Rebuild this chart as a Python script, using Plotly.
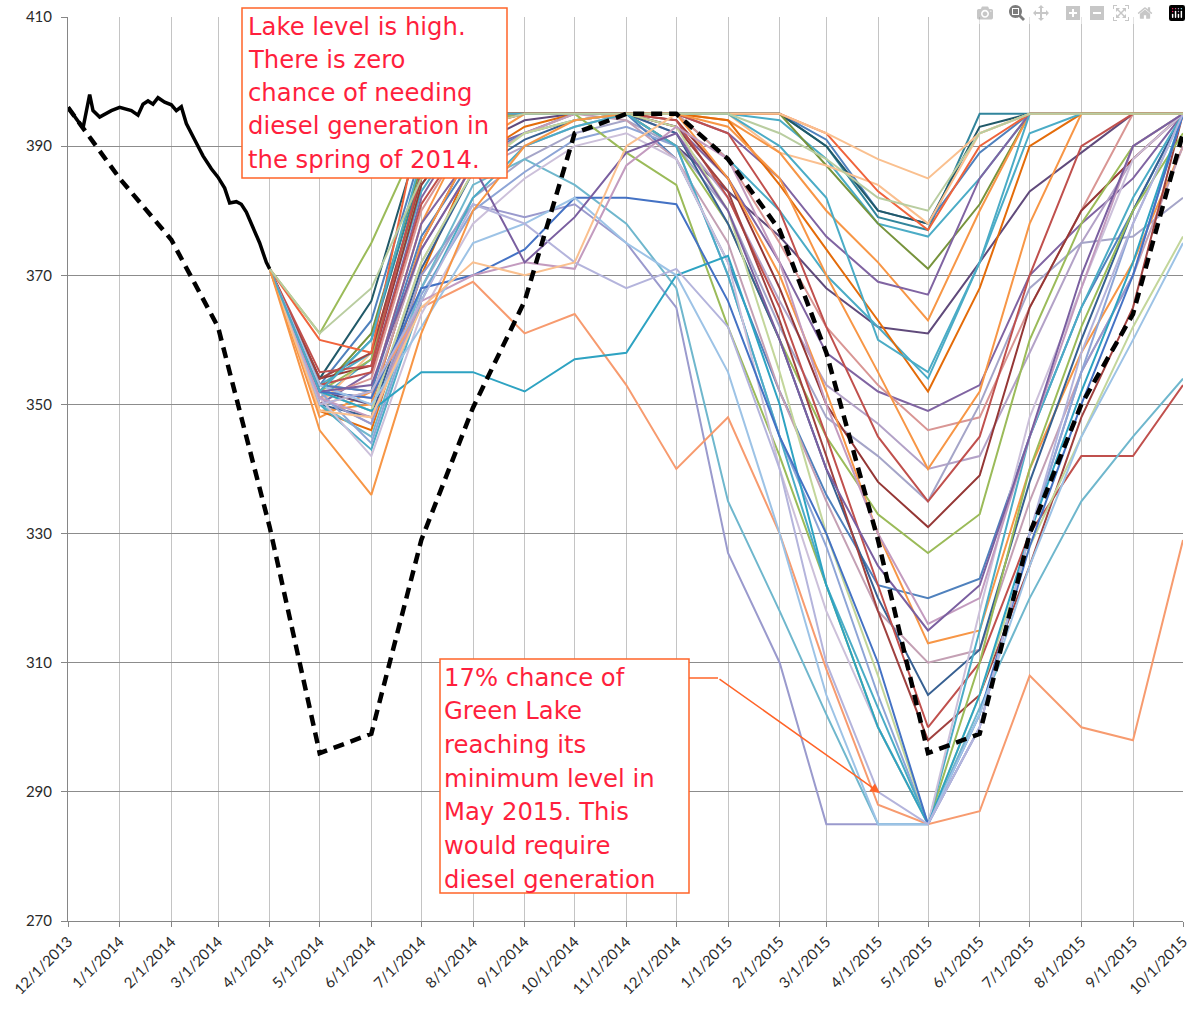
import plotly.graph_objects as go

# ---------------- data ----------------
# observed lake level (solid black)
obs_dates = ["2013-12-01", "2013-12-05", "2013-12-10", "2013-12-14", "2013-12-16", "2013-12-20",
             "2013-12-27", "2014-01-01", "2014-01-08", "2014-01-12", "2014-01-15", "2014-01-18",
             "2014-01-21", "2014-01-24", "2014-01-28", "2014-02-01", "2014-02-04", "2014-02-07",
             "2014-02-10", "2014-02-15", "2014-02-20", "2014-02-25", "2014-03-01", "2014-03-05",
             "2014-03-08", "2014-03-12", "2014-03-15", "2014-03-18", "2014-03-22", "2014-03-26",
             "2014-03-30", "2014-04-01"]
obs_level = [396, 394.5, 392.8, 398, 395.5, 394.5, 395.5, 396, 395.5, 394.8, 396.5, 397,
             396.5, 397.5, 396.8, 396.4, 395.5, 396.1, 393.5, 391, 388.5, 386.5, 385.2, 383.5,
             381.2, 381.4, 381, 379.8, 377.5, 375, 372, 371]

# minimum / critical rule curve (dashed black)
rule_dates = ["2013-12-01", "2013-12-10", "2014-01-01", "2014-02-01", "2014-03-01", "2014-04-01",
              "2014-05-01", "2014-06-01", "2014-07-01", "2014-08-01", "2014-09-01", "2014-10-01",
              "2014-11-01", "2014-12-01", "2015-01-01", "2015-02-01", "2015-03-01", "2015-04-01",
              "2015-05-01", "2015-06-01", "2015-07-01", "2015-08-01", "2015-09-01", "2015-10-01"]
rule_level = [396, 392.8, 385, 375.5, 362, 331, 296, 299, 329, 349.5, 366, 392,
              395, 395, 388, 377, 358, 329, 296, 299, 330, 350, 364, 392]

# simulated trace dates (monthly)
sim_dates = ["2014-04-01", "2014-05-01", "2014-06-01", "2014-07-01", "2014-08-01", "2014-09-01",
             "2014-10-01", "2014-11-01", "2014-12-01", "2015-01-01", "2015-02-01", "2015-03-01",
             "2015-04-01", "2015-05-01", "2015-06-01", "2015-07-01", "2015-08-01", "2015-09-01",
             "2015-10-01"]

run01 = [371, 352, 360, 386, 395, 395, 395, 395, 395, 395, 395, 390, 379, 377, 395, 395, 395, 395, 395]
run02 = [371, 353, 363, 389, 395, 395, 395, 395, 395, 395, 395, 391, 380, 378, 389, 395, 395, 395, 395]
run03 = [371, 351, 357, 383, 395, 395, 395, 395, 395, 395, 394, 388, 378, 376, 385, 395, 395, 395, 395]
run04 = [371, 354, 366, 392, 395, 395, 395, 395, 395, 395, 395, 390, 380, 378, 393, 395, 395, 395, 395]
run05 = [371, 352, 361, 387, 395, 395, 395, 395, 395, 395, 395, 387, 378, 371, 381, 395, 395, 395, 395]
run06 = [371, 350, 358, 385, 395, 395, 395, 395, 395, 395, 389, 387, 384, 378, 392, 395, 395, 395, 395]
run07 = [371, 348, 352, 378, 394, 395, 395, 395, 395, 394, 389, 380, 372, 363, 380, 395, 395, 395, 395]
run08 = [371, 350, 355, 382, 395, 395, 395, 395, 395, 392, 385, 376, 369, 367, 385, 395, 395, 395, 395]
run09 = [371, 352, 350, 375, 390, 394, 395, 395, 390, 383, 376, 368, 362, 361, 372, 383, 389, 395, 395]
run10 = [371, 353, 358, 384, 395, 395, 395, 395, 395, 388, 380, 370, 362, 354, 372, 395, 395, 395, 395]
run11 = [371, 349, 346, 370, 388, 393, 395, 395, 395, 394, 384, 374, 363, 352, 368, 390, 395, 395, 395]
run12 = [371, 353, 352, 378, 389, 392, 395, 395, 393, 385, 372, 358, 352, 349, 353, 370, 378, 385, 395]
run13 = [371, 351, 354, 380, 393, 395, 395, 395, 395, 388, 375, 362, 353, 346, 348, 365, 380, 395, 395]
run14 = [371, 352, 349, 372, 386, 390, 393, 395, 392, 382, 366, 353, 347, 340, 342, 358, 375, 388, 395]
run15 = [371, 351, 347, 368, 382, 388, 392, 394, 390, 380, 362, 348, 342, 335, 350, 368, 375, 376, 382]
run16 = [371, 354, 356, 384, 395, 395, 395, 395, 394, 385, 368, 350, 338, 331, 339, 365, 380, 388, 395]
run17 = [371, 352, 357, 385, 394, 395, 395, 395, 390, 378, 360, 345, 333, 327, 333, 360, 378, 390, 395]
run18 = [371, 353, 352, 376, 388, 392, 394, 395, 388, 372, 352, 336, 322, 320, 323, 345, 365, 380, 395]
run19 = [371, 349, 350, 375, 390, 395, 395, 395, 395, 385, 370, 352, 330, 313, 315, 340, 358, 372, 390]
run20 = [371, 352, 351, 374, 387, 392, 395, 394, 388, 375, 352, 335, 318, 310, 312, 335, 355, 370, 390]
run21 = [371, 350, 348, 371, 386, 391, 394, 395, 392, 378, 360, 340, 320, 305, 312, 338, 360, 380, 395]
run22 = [371, 353, 355, 381, 393, 395, 395, 395, 394, 382, 365, 345, 322, 300, 310, 330, 342, 342, 353]
run23 = [371, 354, 358, 385, 395, 395, 395, 395, 393, 383, 363, 342, 318, 298, 305, 325, 348, 365, 395]
run24 = [371, 351, 347, 370, 381, 379, 381, 375, 365, 327, 310, 285, 285, 285, 300, 330, 355, 370, 395]
run25 = [371, 350, 345, 368, 384, 388, 384, 378, 368, 335, 318, 302, 285, 285, 303, 320, 335, 345, 354]
run26 = [371, 350, 352, 365, 369, 361, 364, 353, 340, 348, 330, 309, 288, 285, 287, 308, 300, 298, 329]
run27 = [371, 352, 344, 367, 380, 386, 391, 393, 390, 370, 345, 328, 305, 285, 300, 330, 355, 378, 395]
run28 = [371, 352, 349, 372, 386, 392, 394, 395, 393, 380, 355, 330, 308, 285, 305, 328, 345, 362, 376]
run29 = [371, 361, 375, 392, 395, 395, 395, 389, 384, 362, 342, 322, 300, 285, 310, 340, 362, 380, 392]
run30 = [371, 350, 343, 366, 382, 390, 393, 395, 390, 370, 345, 322, 303, 285, 315, 345, 365, 382, 395]
run31 = [371, 351, 342, 364, 378, 385, 390, 392, 388, 372, 340, 318, 300, 285, 318, 348, 368, 388, 395]
run32 = [371, 352, 349, 355, 355, 352, 357, 358, 370, 373, 350, 322, 300, 285, 305, 330, 352, 372, 395]
run33 = [371, 355, 356, 386, 395, 395, 395, 395, 395, 392, 380, 362, 345, 335, 345, 370, 390, 395, 395]
run34 = [371, 360, 358, 395, 395, 395, 395, 395, 395, 395, 395, 392, 383, 377, 390, 395, 395, 395, 395]
run35 = [371, 352, 351, 368, 370, 374, 382, 382, 381, 366, 345, 330, 310, 285, 302, 328, 350, 370, 395]
run36 = [371, 351, 348, 366, 370, 372, 371, 387, 393, 388, 372, 350, 330, 316, 320, 345, 368, 390, 395]
run37 = [371, 353, 350, 362, 375, 378, 382, 375, 370, 355, 330, 305, 285, 285, 302, 325, 345, 360, 375]
run38 = [371, 352, 353, 374, 387, 372, 379, 389, 392, 380, 360, 340, 325, 315, 322, 345, 370, 390, 395]
run39 = [371, 350, 352, 366, 381, 378, 372, 368, 371, 362, 340, 310, 290, 285, 300, 330, 358, 378, 395]
run40 = [371, 349, 348, 365, 372, 370, 372, 390, 395, 395, 395, 392, 388, 385, 392, 395, 395, 395, 395]
run41 = [371, 352, 360, 388, 395, 395, 395, 395, 395, 395, 390, 382, 360, 355, 372, 392, 395, 395, 395]
run42 = [371, 346, 336, 361, 380, 390, 394, 395, 395, 393, 385, 370, 355, 340, 352, 378, 395, 395, 395]
run43 = [371, 361, 368, 385, 393, 395, 395, 395, 395, 395, 392, 388, 382, 380, 392, 395, 395, 395, 395]

runs = [run01, run02, run03, run04, run05, run06, run07, run08, run09, run10, run11, run12,
        run13, run14, run15, run16, run17, run18, run19, run20, run21, run22, run23, run24,
        run25, run26, run27, run28, run29, run30, run31, run32, run33, run34, run35, run36,
        run37, run38, run39, run40, run41, run42, run43]

run_colors = ["#31859C", "#4F81BD", "#4BACC6", "#215968", "#77933C", "#FABF8F", "#F79646",
              "#8064A2", "#604A7B", "#4BACC6", "#E46C0A", "#8064A2", "#D99694", "#B3A2C7",
              "#A5A5C8", "#953735", "#9BBB59", "#4F81BD", "#F79646", "#C4A0B4", "#376092",
              "#C0504D", "#A0413F", "#9A9ACD", "#6FB7CD", "#F79B6F", "#8EA5D6", "#C3D69B",
              "#9BBB59", "#4BACC6", "#CCC0DA", "#2EA3C2", "#C0504D", "#F0643C", "#4472C4",
              "#C39BBF", "#9DC3E6", "#7A5FA0", "#B4B4DC", "#FAC08F", "#4BACC6", "#F79646",
              "#B9CDA0"]

tick_dates = ["2013-12-01", "2014-01-01", "2014-02-01", "2014-03-01", "2014-04-01", "2014-05-01",
              "2014-06-01", "2014-07-01", "2014-08-01", "2014-09-01", "2014-10-01", "2014-11-01",
              "2014-12-01", "2015-01-01", "2015-02-01", "2015-03-01", "2015-04-01", "2015-05-01",
              "2015-06-01", "2015-07-01", "2015-08-01", "2015-09-01", "2015-10-01"]
tick_labels = ["12/1/2013", "1/1/2014", "2/1/2014", "3/1/2014", "4/1/2014", "5/1/2014",
               "6/1/2014", "7/1/2014", "8/1/2014", "9/1/2014", "10/1/2014", "11/1/2014",
               "12/1/2014", "1/1/2015", "2/1/2015", "3/1/2015", "4/1/2015", "5/1/2015",
               "6/1/2015", "7/1/2015", "8/1/2015", "9/1/2015", "10/1/2015"]

note1_lines = ["Lake level is high.", "There is zero", "chance of needing",
               "diesel generation in", "the spring of 2014."]
note2_lines = ["17% chance of", "Green Lake", "reaching its", "minimum level in",
               "May 2015. This", "would require", "diesel generation"]

# ---------------- figure ----------------
W, H = 1191, 1011
ML, MR, MT, MB = 68, 8, 17, 90
PW, PH = W - ML - MR, H - MT - MB


def px(x):
    return (x - ML) / PW


def py(y):
    return (H - MB - y) / PH


fig = go.Figure()

for vals, col in zip(runs, run_colors):
    fig.add_trace(go.Scatter(x=sim_dates, y=vals, mode="lines",
                             line=dict(color=col, width=2), hoverinfo="skip",
                             showlegend=False))

fig.add_trace(go.Scatter(x=rule_dates, y=rule_level, mode="lines",
                         line=dict(color="black", width=4.5, dash="11px,7px"),
                         showlegend=False))
fig.add_trace(go.Scatter(x=obs_dates, y=obs_level, mode="lines",
                         line=dict(color="black", width=3.5), showlegend=False))

text_red = "#FF1F3D"
border_col = "#FF6428"
shapes = [
    dict(type="rect", xref="paper", yref="paper", x0=px(242), x1=px(507), y0=py(178), y1=py(8),
         fillcolor="white", line=dict(color=border_col, width=1.5), layer="above"),
    dict(type="rect", xref="paper", yref="paper", x0=px(440), x1=px(689), y0=py(893), y1=py(659),
         fillcolor="white", line=dict(color=border_col, width=1.5), layer="above"),
    dict(type="line", xref="paper", yref="paper", x0=px(689), x1=px(718), y0=py(678), y1=py(678),
         line=dict(color=border_col, width=1.5), layer="above"),
]

annotations = []
for i, t in enumerate(note1_lines):
    annotations.append(dict(xref="paper", yref="paper", x=px(246), y=py(26 + i * 33.3),
                            xanchor="left", yanchor="middle", text=t, showarrow=False,
                            font=dict(family="DejaVu Sans", size=24.3, color=text_red)))
for i, t in enumerate(note2_lines):
    annotations.append(dict(xref="paper", yref="paper", x=px(442), y=py(677 + i * 33.7),
                            xanchor="left", yanchor="middle", text=t, showarrow=False,
                            font=dict(family="DejaVu Sans", size=24.3, color=text_red)))
annotations.append(dict(xref="paper", yref="paper", x=px(880), y=py(793), ax=718 - 880,
                        ay=678 - 793, text="", showarrow=True, arrowhead=2, arrowsize=1.3,
                        arrowwidth=1.5, arrowcolor=border_col))

fig.update_layout(
    width=W, height=H,
    margin=dict(l=ML, r=MR, t=MT, b=MB, autoexpand=False),
    paper_bgcolor="white", plot_bgcolor="white",
    shapes=shapes, annotations=annotations,
    xaxis=dict(type="date", range=["2013-12-01", "2015-10-01"], tickmode="array",
               tickvals=tick_dates, ticktext=tick_labels, tickangle=-45, automargin=False,
               showgrid=True, gridcolor="#C4C4C4", gridwidth=1,
               showline=True, linecolor="#868686", linewidth=1,
               ticks="outside", ticklen=5, tickcolor="#868686",
               tickfont=dict(family="Lato", size=15, color="#2A2A2A"), zeroline=False),
    yaxis=dict(range=[270, 410], dtick=20, tick0=270, showgrid=True, gridcolor="#8C8C8C",
               gridwidth=1, showline=True, linecolor="#868686", linewidth=1, automargin=False,
               ticks="outside", ticklen=6, tickcolor="#868686", ticklabelstandoff=6,
               tickfont=dict(family="Lato", size=15, color="#2A2A2A"), zeroline=False),
)

fig.write_html("out.html", post_script="document.body.style.margin='0';")
